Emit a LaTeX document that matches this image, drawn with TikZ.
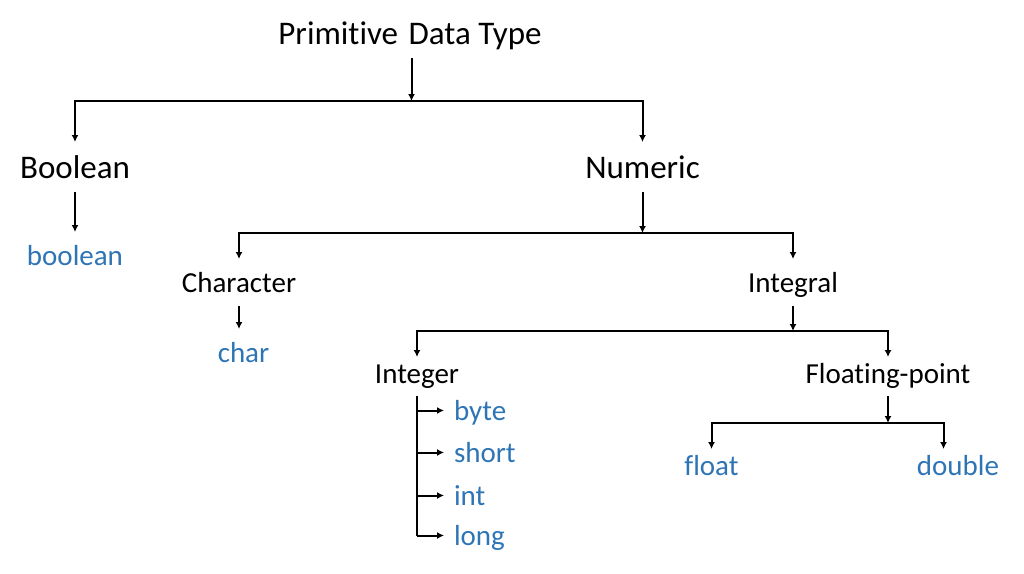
\documentclass[tikz,border=0pt]{standalone}
\usepackage{fontspec}
\setmainfont{Carlito}[Ligatures=NoCommon]
\usetikzlibrary{arrows.meta,positioning,calc}
\definecolor{typeblue}{RGB}{46,117,182}

\begin{document}
\begin{tikzpicture}[x=1pt,y=-1pt,
    big/.style={font=\fontsize{33}{38}\selectfont, inner sep=0pt, outer ysep=8pt,
                text height=28pt, text depth=6pt, anchor=base},
    mid/.style={font=\fontsize{29}{34}\selectfont, inner sep=0pt, outer ysep=8pt,
                text height=25pt, text depth=6pt, anchor=base},
    low/.style={mid, text height=19pt, outer ysep=7pt},
    kw/.style={text=typeblue},
    arr/.style={line width=2pt, -{Latex[length=7pt,width=7pt]}},
    spine/.style={line width=2pt}]
    \useasboundingbox (0,0) rectangle (1024,573);

    % top levels
    \node[big] (prim) at (410,44) {Primitive\hspace{3pt} Data Type};
    \node[big] (bool) at (75,178) {Boolean};
    \node[big] (num) at (642.5,178) {Numeric};
    \node[mid,kw] (kwbool) at (75,265) {boolean};

    % numeric branch
    \node[mid] (chr) at (239,292) {Character};
    \node[mid] (intg) at (793,292) {Integral};
    \node[mid,kw] (kwchar) at (243.5,362) {char};
    \node[low] (inter) at (417,383) {Integer};
    \node[low] (flt) at (888,383) {Floating-point};

    % keywords of Integer
    \node[mid,kw,anchor=base west,outer xsep=10pt] (kwbyte) at (444,420) {byte};
    \node[mid,kw,anchor=base west,outer xsep=10pt] (kwshort) at (444,462) {short};
    \node[mid,kw,anchor=base west,outer xsep=10pt] (kwint) at (444,505) {int};
    \node[mid,kw,anchor=base west,outer xsep=10pt] (kwlong) at (444,545) {long};

    % keywords of Floating-point
    \node[low,kw] (kwfloat) at (711.5,475) {float};
    \node[low,kw] (kwdouble) at (958,475) {double};

    % junctions on the buses
    \coordinate (j1) at (411.5,101);
    \coordinate (j2) at (num.south |- 0,233);
    \coordinate (j3) at (intg.south |- 0,331);
    \coordinate (j4) at (flt.south |- 0,423);

    % connectors
    \draw[arr] (j1 |- prim.south) -- (j1);
    \draw[arr] (j1) -| (bool.north);
    \draw[arr] (j1) -| (num.north);
    \draw[arr] (bool.south) -- (kwbool.north);

    \draw[arr] (num.south) -- (j2);
    \draw[arr] (j2) -| (chr.north);
    \draw[arr] (j2) -| (intg.north);
    \draw[arr] (chr.south) -- (chr.south |- kwchar.north);

    \draw[arr] (intg.south) -- (j3);
    \draw[arr] (j3) -| (inter.north);
    \draw[arr] (j3) -| (flt.north);

    \draw[spine] (inter.south) -- (inter.south |- kwlong.west);
    \foreach \k in {kwbyte,kwshort,kwint,kwlong}
        \draw[arr] (inter.south |- \k.west) -- (\k.west);

    \draw[arr] (flt.south) -- (j4);
    \draw[arr] (j4) -| (kwfloat.north);
    \draw[arr] (j4) -| ([xshift=-14.5pt]kwdouble.north);
\end{tikzpicture}
\end{document}
